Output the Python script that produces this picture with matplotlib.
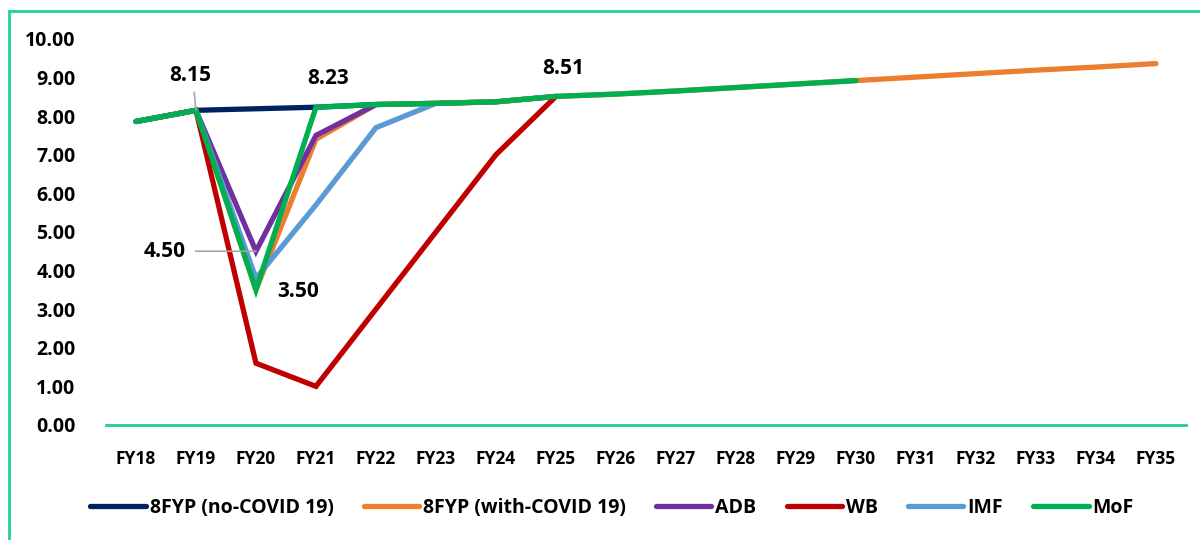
import numpy as np
import matplotlib.pyplot as plt
from matplotlib.patches import Rectangle

# datos: crecimiento del PIB (%) por año fiscal
anios = ["FY18", "FY19", "FY20", "FY21", "FY22", "FY23", "FY24", "FY25", "FY26",
         "FY27", "FY28", "FY29", "FY30", "FY31", "FY32", "FY33", "FY34", "FY35"]
fyp_sin_covid = [7.86, 8.15, 8.19, 8.23, 8.30, 8.33, 8.37, 8.51]
fyp_con_covid = [7.86, 8.15, 3.50, 7.40, 8.30, 8.33, 8.37, 8.51, 8.57,
                 8.65, 8.74, 8.83, 8.92, 9.01, 9.10, 9.19, 9.27, 9.36]
adb = [7.86, 8.15, 4.50, 7.50, 8.30]
wb = [7.86, 8.15, 1.60, 1.00, 3.00, 5.00, 7.00, 8.51]
imf = [7.86, 8.15, 3.80, 5.70, 7.70, 8.33]
mof = [7.86, 8.15, 3.50, 8.23, 8.30, 8.33, 8.37, 8.51, 8.57,
       8.65, 8.74, 8.83, 8.92]

series = [
    ("8FYP (no-COVID 19)", fyp_sin_covid, "#002060"),
    ("8FYP (with-COVID 19)", fyp_con_covid, "#ED7D31"),
    ("ADB", adb, "#7030A0"),
    ("WB", wb, "#C00000"),
    ("IMF", imf, "#5B9BD5"),
    ("MoF", mof, "#00B050"),
]

plt.rcParams['font.family'] = ['Open Sans', 'DejaVu Sans']
plt.rcParams['font.weight'] = 'bold'

fig = plt.figure(figsize=(12, 5.4), dpi=100)
ax = fig.add_axes([0.0883, 0.213, 0.9, 0.715])

x = np.arange(len(anios))
for nombre, valores, color in series:
    ax.plot(x[:len(valores)], valores, color=color, lw=3.8, label=nombre,
            solid_capstyle='round', solid_joinstyle='miter')

ax.set_xlim(-0.5, len(anios) - 0.5)
ax.set_ylim(0, 10)
ax.set_yticks(np.arange(0, 11, 1))
ax.set_yticklabels([f"{v:.2f}" for v in np.arange(0, 11, 1)], fontsize=14, fontweight='bold')
ax.set_xticks(x)
ax.set_xticklabels(anios, fontsize=12.5, fontweight='bold')
ax.tick_params(axis='y', length=0, pad=22)
ax.tick_params(axis='x', length=0, pad=18)

for lado in ["top", "right", "left"]:
    ax.spines[lado].set_visible(False)
ax.spines["bottom"].set_color("#1fcb9c")
ax.spines["bottom"].set_linewidth(2)

# etiquetas de valores con lineas guia
gris = "#a6a6a6"
etiqueta = dict(ha='center', va='center', fontsize=15, fontweight='bold')
ax.annotate("", xy=(1, 8.15), xytext=(0.97, 8.62),
            arrowprops=dict(arrowstyle='-', color=gris, lw=1.2, shrinkA=0, shrinkB=0))
ax.text(0.9, 9.05, "8.15", **etiqueta)
ax.text(3.2, 8.97, "8.23", **etiqueta)
ax.text(7.12, 9.23, "8.51", **etiqueta)
ax.annotate("4.50", xy=(2, 4.50), xytext=(0.48, 4.50),
            arrowprops=dict(arrowstyle='-', color=gris, lw=1.2, shrinkA=5, shrinkB=0),
            **etiqueta)
ax.text(2.7, 3.47, "3.50", **etiqueta)

fig.legend(loc='center', bbox_to_anchor=(0.51, 0.06), ncol=6, frameon=False,
           handlelength=2.85, handletextpad=0.2, columnspacing=1.55,
           prop={'weight': 'bold', 'size': 14})

# marco del grafico
fig.patches.append(Rectangle((9 / 1200, -0.05), 1.1, 1 - 11 / 540 + 0.05,
                             transform=fig.transFigure, fill=False,
                             edgecolor="#1fd19f", lw=2))

fig.savefig("out.png", dpi=100)
